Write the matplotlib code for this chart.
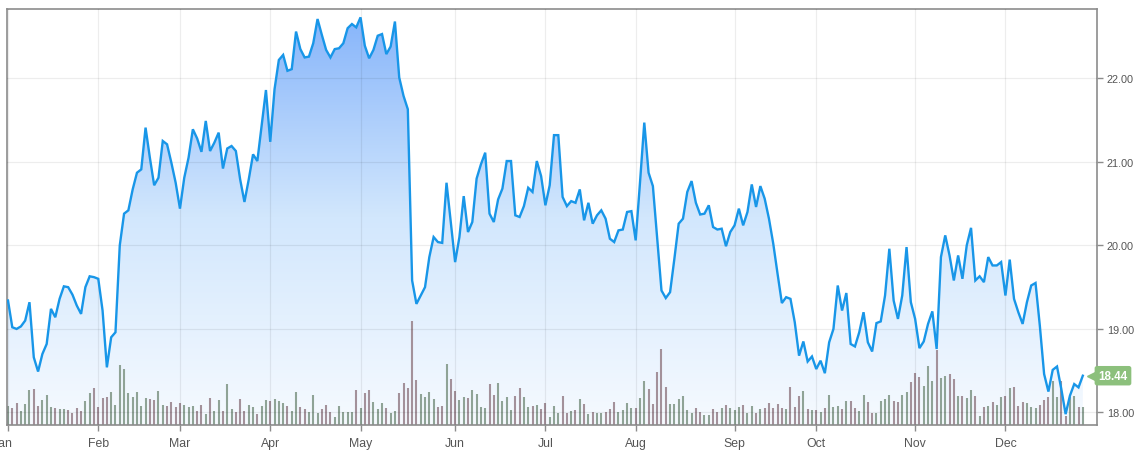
import numpy as np
import matplotlib.pyplot as plt
import matplotlib.transforms as mtransforms
from matplotlib.colors import LinearSegmentedColormap

plt.rcParams['font.family'] = ['Liberation Sans', 'DejaVu Sans']

# daily closing prices, one per trading day
prices = [
    19.34, 19.02, 19.00, 19.03, 19.10, 19.32, 18.66, 18.49, 18.70, 18.82,
    19.24, 19.14, 19.36, 19.51, 19.50, 19.41, 19.28, 19.18, 19.50, 19.63,
    19.62, 19.60, 19.22, 18.54, 18.90, 18.96, 20.00, 20.38, 20.42, 20.67,
    20.87, 20.91, 21.41, 21.05, 20.72, 20.81, 21.25, 21.21, 20.99, 20.75,
    20.44, 20.81, 21.05, 21.39, 21.28, 21.12, 21.49, 21.13, 21.23, 21.35,
    20.92, 21.16, 21.19, 21.13, 20.79, 20.52, 20.79, 21.09, 21.01, 21.43,
    21.86, 21.24, 21.87, 22.22, 22.28, 22.09, 22.11, 22.56, 22.35, 22.25,
    22.26, 22.42, 22.71, 22.52, 22.34, 22.25, 22.35, 22.36, 22.42, 22.60,
    22.65, 22.61, 22.73, 22.39, 22.24, 22.34, 22.51, 22.53, 22.29, 22.38,
    22.68, 22.01, 21.79, 21.63, 19.58, 19.30, 19.40, 19.50, 19.86, 20.10,
    20.04, 20.03, 20.75, 20.28, 19.80, 20.10, 20.59, 20.16, 20.28, 20.80,
    20.97, 21.11, 20.38, 20.28, 20.55, 20.68, 21.01, 21.01, 20.36, 20.34,
    20.47, 20.69, 20.64, 21.01, 20.83, 20.48, 20.72, 21.32, 21.32, 20.58,
    20.47, 20.53, 20.51, 20.67, 20.30, 20.51, 20.26, 20.36, 20.42, 20.32,
    20.08, 20.04, 20.18, 20.19, 20.40, 20.41, 20.06, 20.75, 21.47, 20.87,
    20.71, 20.08, 19.46, 19.37, 19.44, 19.84, 20.26, 20.32, 20.64, 20.77,
    20.51, 20.37, 20.38, 20.48, 20.22, 20.19, 20.20, 19.99, 20.16, 20.24,
    20.44, 20.24, 20.40, 20.73, 20.46, 20.71, 20.56, 20.32, 20.02, 19.66,
    19.31, 19.38, 19.36, 19.08, 18.68, 18.85, 18.61, 18.67, 18.52, 18.62,
    18.47, 18.84, 19.00, 19.52, 19.22, 19.43, 18.82, 18.79, 18.96, 19.20,
    18.84, 18.73, 19.07, 19.09, 19.40, 19.96, 19.34, 19.12, 19.40, 19.98,
    19.32, 19.12, 18.77, 18.85, 19.06, 19.21, 18.76, 19.86, 20.12, 19.88,
    19.58, 19.88, 19.60, 20.00, 20.21, 19.58, 19.63, 19.56, 19.86, 19.76,
    19.76, 19.80, 19.40, 19.83, 19.36, 19.20, 19.06, 19.32, 19.52, 19.55,
    19.04, 18.46, 18.25, 18.51, 18.55, 18.28, 17.98, 18.20, 18.34, 18.30,
    18.44,
]

# daily volume (100k shares)
volume = [
    19.3, 17.3, 22.3, 14.3, 21, 35, 36, 19.3, 25, 30,
    18, 17.3, 16, 16, 15, 12.3, 17.3, 14.3, 24.3, 32.3,
    37, 18.3, 27.3, 28.3, 33.3, 20.3, 60, 56, 32.3, 28.3,
    33.3, 19.3, 27.3, 26, 25.3, 34.3, 20, 19.3, 23.3, 18.3,
    22.3, 20.3, 18.3, 19, 14.3, 20, 11.3, 27.3, 14.3, 25.3,
    14.3, 41.3, 16.3, 13.3, 26.3, 14.3, 20.3, 18.3, 11.3, 19.3,
    25, 24.3, 26, 24.3, 22.3, 19.3, 14.3, 33.3, 18.3, 16.3,
    13.3, 30.3, 12.3, 16.3, 20.3, 13.3, 8.3, 19.3, 13.3, 13.3,
    13.3, 35.3, 17.3, 31.7, 35.3, 23.3, 16.3,
    22.3, 17.3, 12.3, 14.3, 32.3, 42.3, 37.3, 104, 45, 31.3,
    28.3, 33.3, 26, 18, 19.3, 61.3, 46.3, 34.3, 25.3, 28.3,
    27.3, 35.3, 31.3, 18, 17.3, 41.3, 30.3, 42.3, 24.3, 28.3,
    15.3, 29.3, 37.3, 28.3, 18.3, 19.3, 20.3, 16.3, 22.3, 8.3,
    19.3, 12.3, 29.3, 12.3, 14.3, 15.3, 26.3, 21.3, 11.3, 13.3,
    12.3, 12.3, 13.3, 16.3, 23.3, 13.3, 15.3, 22.3, 17.3, 17.3,
    27.3, 44.3, 36.3, 21.3, 53.3, 76.3, 38.3, 21.3, 21.3, 26.3,
    29.3, 15.3, 12.3, 17.3, 13.3, 10.3, 10.3, 16.3, 13.3, 17.3,
    20.3, 17.3, 15.3, 18.3, 20.3, 12.3, 19.3, 12.3,
    16.3, 17.3, 22.3, 17.3, 21.3, 17.3, 16.3, 38.3, 18.3, 29.3, 34.3, 16.3,
    15, 15, 12.7, 17, 30, 17.7, 18.7, 16, 23.7, 23.7,
    17, 13.7, 30, 22.7, 12, 12, 23.7, 26, 30, 23.7,
    22.7, 30, 32.7, 42.7, 52, 47.7, 38.7, 58.7, 44.3, 75.3,
    46.7, 49.3, 51, 46, 29.3, 28.7, 26.7, 35, 28.7, 8.7,
    17.7, 19.3, 22.7, 20, 28.3, 29.3, 37, 37.7, 18.7, 23.3,
    21.7, 18.3, 17, 20.3, 25, 28.3, 44.3, 27.7, 44.3, 9.3,
    27.7, 29.3, 17.7, 17.7,
]

month_labels = ['Jan', 'Feb', 'Mar', 'Apr', 'May', 'Jun',
                'Jul', 'Aug', 'Sep', 'Oct', 'Nov', 'Dec']
month_starts = [0, 21, 40, 61, 82, 104, 125, 146, 169, 188, 211, 232]
price_ticks = [18, 19, 20, 21, 22]

assert len(prices) == len(volume)
days = np.arange(len(prices))
y_lo, y_hi = 17.85, 22.83
x_lo, x_hi = -0.23, len(prices) - 1 + 3.3

fig = plt.figure(figsize=(11.4, 4.56), dpi=100)
ax = fig.add_axes([7 / 1140, 30 / 456, 1090 / 1140, 416 / 456])

# gradient area under the price line
area = ax.fill_between(days, prices, y_lo, facecolor='none', edgecolor='none')
cmap = LinearSegmentedColormap.from_list('area', ['#f6faff', '#d2e7fd', '#84b3fa'])
grad = np.linspace(0, 1, 256).reshape(-1, 1)
img = ax.imshow(grad, extent=[x_lo, x_hi, y_lo, y_hi], origin='lower',
                aspect='auto', cmap=cmap, zorder=1)
img.set_clip_path(area.get_paths()[0], transform=ax.transData)

# volume bars along the bottom, green on up days, mauve on down days
bar_colors = ['#8fa396' if i == 0 or prices[i] >= prices[i - 1] else '#a3919a'
              for i in days]
ax.vlines(days, 0, np.array(volume) / 416, colors=bar_colors, linewidth=1.5,
          transform=ax.get_xaxis_transform(), zorder=2)

ax.plot(days, prices, color='#1896e8', lw=1.7, zorder=4, solid_joinstyle='miter')

ax.set_xlim(x_lo, x_hi)
ax.set_ylim(y_lo, y_hi)
ax.set_xticks(month_starts)
ax.set_xticklabels(month_labels)
ax.set_yticks(price_ticks)
ax.set_yticklabels([f'{v:.2f}' for v in price_ticks])
ax.yaxis.tick_right()

ax.set_axisbelow(False)
ax.grid(True, color='#000000', alpha=0.07, lw=0.9)
for s in ax.spines.values():
    s.set_color('#8c8c8c')
    s.set_linewidth(1.2)
ax.tick_params(axis='x', length=4, width=1, pad=5, color='#8c8c8c',
               labelcolor='#555555', labelsize=8.8)
ax.tick_params(axis='y', length=4, width=1, pad=3, color='#8c8c8c',
               labelcolor='#555555', labelsize=7.8)

# the first month label sits on the figure edge and is cut off there
first = ax.xaxis.get_major_ticks()[0].label1
first.set_transform(first.get_transform()
                    + mtransforms.ScaledTranslation(-4 / 72, 0, fig.dpi_scale_trans))

# last price tag
last = prices[-1]
blend = mtransforms.blended_transform_factory(ax.transAxes, ax.transData)
tip = mtransforms.offset_copy(blend, fig=fig, x=-3, y=0, units='dots')
ax.plot([1.0], [last], marker='<', markersize=10, color='#8cc07c',
        transform=tip, clip_on=False, zorder=6)
ax.annotate(f'{last:.2f}', xy=(1.0, last), xycoords=blend,
            xytext=(11.5, 0), textcoords='offset points',
            ha='center', va='center', color='white', fontsize=8.4,
            fontweight='bold', annotation_clip=False, zorder=7,
            bbox=dict(boxstyle='round,pad=0.32,rounding_size=0.2',
                      fc='#8cc07c', ec='none'))

fig.savefig('out.png', dpi=100)
